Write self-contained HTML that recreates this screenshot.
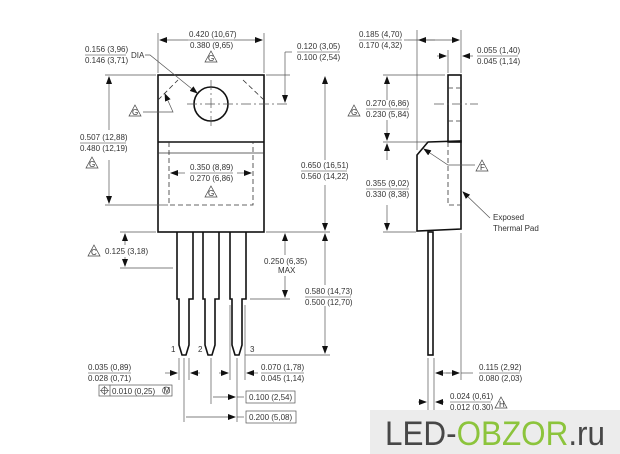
<!DOCTYPE html>
<html><head><meta charset="utf-8"><style>
html,body{margin:0;padding:0;background:#fff;width:620px;height:454px;overflow:hidden}
svg{display:block}
text{font-family:"Liberation Sans",sans-serif;font-size:8px;fill:#333}
.d{stroke:#555;stroke-width:.7;fill:none}
.k{stroke:#111;stroke-width:1.6;fill:none}
.ds{stroke:#333;stroke-width:.8;fill:none;stroke-dasharray:5,3}
.u{stroke:#333;stroke-width:.6}
.tri{fill:none;stroke:#444;stroke-width:.7}
</style></head><body>
<svg width="620" height="454" viewBox="0 0 620 454">
<defs>
<marker id="a" markerWidth="8" markerHeight="6" refX="7" refY="3" orient="auto" markerUnits="userSpaceOnUse"><path d="M0,0 L8,3 L0,6z" fill="#111"/></marker>
<g id="t"><path d="M0,-6 L6,5 L-6,5z" class="tri"/></g>
</defs>

<!-- front body -->
<rect x="158" y="75" width="106" height="157" class="k"/>
<line x1="158" y1="142" x2="264" y2="142" class="k"/>
<line x1="158" y1="153" x2="264" y2="153" stroke="#333" stroke-width=".7"/>
<circle cx="211" cy="104" r="17" class="k"/>
<line x1="187" y1="104" x2="290" y2="104" class="d" stroke-dasharray="10,3,2,3"/>
<line x1="211" y1="80" x2="211" y2="128" class="d" stroke-dasharray="10,3,2,3"/>
<path d="M158,100 L178,80" class="ds"/><path d="M243,80 L264,100" class="ds"/>
<path d="M169,142 V205 H253 V142" class="ds"/>
<!-- leads -->
<path d="M177,232 V299 H179 V345 L182,355 H186 L189,345 V299 H193 V232" class="k" stroke-width="1.3"/>
<path d="M203,232 V299 H205 V345 L208,355 H212 L215,345 V299 H219 V232" class="k" stroke-width="1.3"/>
<path d="M230,232 V299 H232 V345 L235,355 H239 L242,345 V299 H246 V232" class="k" stroke-width="1.3"/>
<text x="171" y="352">1</text><text x="198" y="352">2</text><text x="250" y="352">3</text>

<!-- top width -->
<line x1="158" y1="73" x2="158" y2="33" class="d"/><line x1="264" y1="73" x2="264" y2="33" class="d"/>
<line x1="188" y1="40" x2="160" y2="40" class="d" marker-end="url(#a)"/>
<line x1="234" y1="40" x2="262" y2="40" class="d" marker-end="url(#a)"/>
<text x="189" y="37">0.420 (10,67)</text><line x1="188" y1="40" x2="234" y2="40" class="u"/>
<text x="190" y="48">0.380 (9,65)</text>
<use href="#t" x="211" y="57"/><text x="208" y="61" font-size="5">G</text>
<!-- hole dia -->
<text x="85" y="52">0.156 (3,96)</text><line x1="85" y1="55" x2="126" y2="55" class="u"/>
<text x="85" y="63">0.146 (3,71)</text><text x="131" y="58">DIA</text>
<path d="M145,55 H150 L197,93" class="d" marker-end="url(#a)"/>
<!-- 0.120 -->
<line x1="266" y1="75" x2="290" y2="75" class="d"/>
<line x1="285" y1="52" x2="285" y2="102" class="d" marker-end="url(#a)"/>
<line x1="285" y1="52" x2="292" y2="52" class="d"/>
<text x="297" y="49">0.120 (3,05)</text><line x1="297" y1="52" x2="340" y2="52" class="u"/>
<text x="297" y="60">0.100 (2,54)</text>
<!-- left triangle leader -->
<use href="#t" x="135" y="111"/><text x="132" y="115" font-size="5">G</text>
<path d="M143,112 H173 L165,94" class="d" marker-end="url(#a)"/>
<!-- 0.507 -->
<line x1="105" y1="75" x2="156" y2="75" class="d"/><line x1="105" y1="205" x2="168" y2="205" class="d"/>
<line x1="109" y1="130" x2="109" y2="77" class="d" marker-end="url(#a)"/>
<line x1="109" y1="160" x2="109" y2="203" class="d" marker-end="url(#a)"/>
<text x="80" y="140">0.507 (12,88)</text><line x1="80" y1="143" x2="126" y2="143" class="u"/>
<text x="80" y="151">0.480 (12,19)</text>
<use href="#t" x="92" y="163"/><text x="89" y="167" font-size="5">G</text>
<!-- 0.350 -->
<line x1="185" y1="173" x2="171" y2="173" class="d" marker-end="url(#a)"/>
<line x1="237" y1="173" x2="251" y2="173" class="d" marker-end="url(#a)"/>
<text x="190" y="170">0.350 (8,89)</text><line x1="190" y1="173" x2="233" y2="173" class="u"/>
<text x="190" y="181">0.270 (6,86)</text>
<use href="#t" x="211" y="192"/><text x="208" y="196" font-size="5">G</text>
<!-- 0.650 -->
<line x1="266" y1="232" x2="330" y2="232" class="d"/>
<line x1="325" y1="160" x2="325" y2="77" class="d" marker-end="url(#a)"/>
<line x1="325" y1="185" x2="325" y2="230" class="d" marker-end="url(#a)"/>
<text x="301" y="168">0.650 (16,51)</text><line x1="301" y1="171" x2="347" y2="171" class="u"/>
<text x="301" y="179">0.560 (14,22)</text>
<!-- 0.125 -->
<line x1="120" y1="232" x2="156" y2="232" class="d"/><line x1="120" y1="268" x2="173" y2="268" class="d"/>
<line x1="125" y1="245" x2="125" y2="234" class="d" marker-end="url(#a)"/>
<line x1="125" y1="257" x2="125" y2="266" class="d" marker-end="url(#a)"/>
<use href="#t" x="94" y="251"/><text x="91" y="255" font-size="5">C</text>
<text x="105" y="254">0.125 (3,18)</text>
<!-- 0.250 -->
<line x1="250" y1="299" x2="290" y2="299" class="d"/>
<line x1="285" y1="255" x2="285" y2="234" class="d" marker-end="url(#a)"/>
<line x1="285" y1="276" x2="285" y2="297" class="d" marker-end="url(#a)"/>
<text x="264" y="264">0.250 (6,35)</text><text x="278" y="273" font-size="7">MAX</text>
<!-- 0.580 -->
<line x1="245" y1="355" x2="330" y2="355" class="d"/>
<line x1="325" y1="285" x2="325" y2="234" class="d" marker-end="url(#a)"/>
<line x1="325" y1="306" x2="325" y2="353" class="d" marker-end="url(#a)"/>
<text x="305" y="294">0.580 (14,73)</text><line x1="305" y1="297" x2="351" y2="297" class="u"/>
<text x="305" y="305">0.500 (12,70)</text>
<!-- bottom dims -->
<line x1="179" y1="358" x2="179" y2="380" class="d"/><line x1="189" y1="358" x2="189" y2="380" class="d"/>
<line x1="184" y1="358" x2="184" y2="422" class="d"/>
<line x1="211" y1="358" x2="211" y2="404" class="d"/>
<line x1="230" y1="305" x2="230" y2="380" class="d"/><line x1="245" y1="305" x2="245" y2="380" class="d"/>
<line x1="237" y1="358" x2="237" y2="422" class="d"/>
<line x1="165" y1="373" x2="177" y2="373" class="d" marker-end="url(#a)"/>
<line x1="200" y1="373" x2="191" y2="373" class="d" marker-end="url(#a)"/>
<text x="88" y="370">0.035 (0,89)</text><line x1="88" y1="373" x2="131" y2="373" class="u"/>
<text x="88" y="381">0.028 (0,71)</text>
<line x1="219" y1="373" x2="228" y2="373" class="d" marker-end="url(#a)"/>
<line x1="258" y1="373" x2="247" y2="373" class="d" marker-end="url(#a)"/>
<text x="261" y="370">0.070 (1,78)</text><line x1="261" y1="373" x2="304" y2="373" class="u"/>
<text x="261" y="381">0.045 (1,14)</text>
<rect x="99" y="385" width="73" height="11" class="d"/><line x1="110" y1="385" x2="110" y2="396" class="d"/>
<circle cx="104.5" cy="390.5" r="3" class="d"/><line x1="100" y1="390.5" x2="109" y2="390.5" class="d"/><line x1="104.5" y1="386" x2="104.5" y2="395" class="d"/>
<text x="112" y="394">0.010 (0,25)</text><circle cx="166" cy="390.5" r="3.5" class="d"/><text x="163.5" y="393" font-size="5">M</text>
<line x1="213" y1="397" x2="235" y2="397" class="d" marker-end="url(#a)"/>
<line x1="244" y1="397" x2="237" y2="397" class="d"/>
<rect x="246" y="391" width="49" height="12" class="d"/><text x="249" y="400">0.100 (2,54)</text>
<line x1="186" y1="417" x2="235" y2="417" class="d" marker-end="url(#a)"/>
<line x1="244" y1="417" x2="237" y2="417" class="d"/>
<rect x="246" y="411" width="50" height="12" class="d"/><text x="249" y="420">0.200 (5,08)</text>

<!-- side view -->
<rect x="448" y="75" width="13" height="67" class="k"/>
<path d="M428,142 L461,141 V229 L417,231 V155 Z" class="k"/>
<rect x="428" y="232" width="5" height="123" class="k" stroke-width="1.2"/>
<line x1="448" y1="88" x2="461" y2="88" class="ds"/><line x1="448" y1="121" x2="461" y2="121" class="ds"/>
<line x1="434" y1="104" x2="478" y2="104" class="d" stroke-dasharray="10,3,2,3"/>
<path d="M448,142 V205 H461" class="ds"/>
<!-- 0.185 -->
<line x1="417" y1="30" x2="417" y2="150" class="d"/><line x1="461" y1="30" x2="461" y2="73" class="d"/>
<line x1="408" y1="40" x2="459" y2="40" class="d" marker-end="url(#a)"/>
<line x1="435" y1="40" x2="419" y2="40" class="d" marker-end="url(#a)"/>
<line x1="404" y1="40" x2="408" y2="40" class="d"/>
<text x="359" y="37">0.185 (4,70)</text><line x1="359" y1="40" x2="402" y2="40" class="u"/>
<text x="359" y="48">0.170 (4,32)</text>
<!-- 0.055 -->
<line x1="448" y1="50" x2="448" y2="73" class="d"/>
<line x1="437" y1="56" x2="446" y2="56" class="d" marker-end="url(#a)"/>
<line x1="473" y1="56" x2="463" y2="56" class="d" marker-end="url(#a)"/>
<text x="477" y="53">0.055 (1,40)</text><line x1="477" y1="56" x2="518" y2="56" class="u"/>
<text x="477" y="64">0.045 (1,14)</text>
<!-- 0.270 / 0.355 -->
<line x1="383" y1="75" x2="445" y2="75" class="d"/><line x1="383" y1="142" x2="427" y2="142" class="d"/>
<line x1="383" y1="232" x2="416" y2="232" class="d"/>
<line x1="387" y1="100" x2="387" y2="77" class="d" marker-end="url(#a)"/>
<line x1="387" y1="120" x2="387" y2="140" class="d" marker-end="url(#a)"/>
<line x1="387" y1="160" x2="387" y2="144" class="d" marker-end="url(#a)"/>
<line x1="387" y1="205" x2="387" y2="230" class="d" marker-end="url(#a)"/>
<use href="#t" x="354" y="111"/><text x="351" y="115" font-size="5">G</text>
<text x="366" y="106">0.270 (6,86)</text><line x1="366" y1="109" x2="409" y2="109" class="u"/>
<text x="366" y="117">0.230 (5,84)</text>
<text x="366" y="186">0.355 (9,02)</text><line x1="366" y1="189" x2="409" y2="189" class="u"/>
<text x="366" y="197">0.330 (8,38)</text>
<!-- F -->
<use href="#t" x="482" y="166"/><text x="480" y="170" font-size="5">F</text>
<path d="M475,165 H448 L424,149" class="d" marker-end="url(#a)"/>
<!-- exposed pad -->
<path d="M490,218 L463,192" class="d" marker-end="url(#a)"/>
<text x="493" y="220" font-size="7.5">Exposed</text><text x="493" y="231" font-size="7.5">Thermal Pad</text>
<!-- 0.115 -->
<line x1="461" y1="233" x2="461" y2="380" class="d"/>
<line x1="428" y1="358" x2="428" y2="410" class="d"/><line x1="434" y1="358" x2="434" y2="410" class="d"/>
<line x1="450" y1="373" x2="436" y2="373" class="d" marker-end="url(#a)"/>
<line x1="446" y1="373" x2="459" y2="373" class="d" marker-end="url(#a)"/>
<line x1="461" y1="373" x2="473" y2="373" class="d"/>
<text x="479" y="370">0.115 (2,92)</text><line x1="479" y1="373" x2="520" y2="373" class="u"/>
<text x="479" y="381">0.080 (2,03)</text>
<!-- 0.024 -->
<line x1="418" y1="402" x2="426" y2="402" class="d" marker-end="url(#a)"/>
<line x1="444" y1="402" x2="436" y2="402" class="d" marker-end="url(#a)"/>
<text x="450" y="399">0.024 (0,61)</text><line x1="450" y1="402" x2="491" y2="402" class="u"/>
<text x="450" y="410">0.012 (0,30)</text>
<use href="#t" x="501" y="403"/><text x="499" y="407" font-size="5">H</text>

<!-- watermark -->
<rect x="370" y="410" width="250" height="44" fill="#ececec"/>
<text x="385" y="445" textLength="220" lengthAdjust="spacingAndGlyphs" style="font-size:34px;fill:#474747;font-family:'Liberation Sans Narrow','Liberation Sans',sans-serif">LED-<tspan style="fill:#8cc43c">OBZOR</tspan>.ru</text>
</svg>
</body></html>
